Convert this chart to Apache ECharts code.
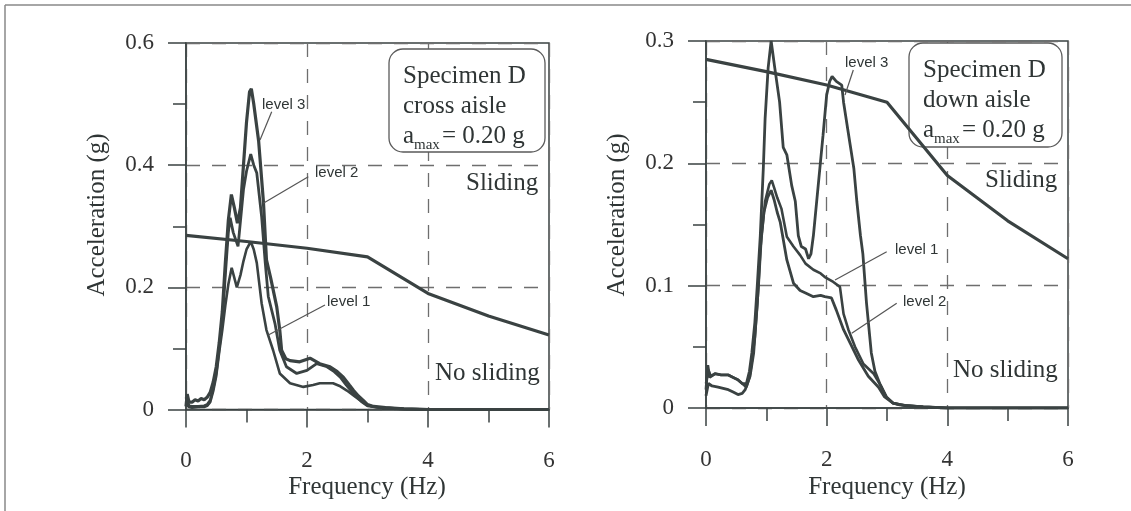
<!DOCTYPE html>
<html><head><meta charset="utf-8">
<script src="https://cdn.jsdelivr.net/npm/echarts@6/dist/echarts.min.js"></script>
<style>html,body{margin:0;padding:0;background:#fff}#c{width:1131px;height:511px}</style>
</head><body><div id="c"></div>
<script>
// ---- data (frequency Hz, acceleration g) ----
const thresholdFreq = [0, 1, 2, 3, 4, 5, 6];
const thresholdAcc  = [0.285, 0.275, 0.264, 0.25, 0.19, 0.153, 0.122];

const crossLevel3 = [[0,0.005],[0.02,0.025],[0.05,0.012],[0.1,0.012],[0.15,0.016],[0.2,0.014],[0.25,0.018],[0.3,0.016],[0.35,0.02],[0.4,0.028],[0.45,0.045],[0.5,0.07],[0.55,0.11],[0.6,0.16],[0.65,0.24],[0.7,0.31],[0.75,0.352],[0.8,0.33],[0.85,0.305],[0.9,0.33],[0.95,0.4],[1.0,0.47],[1.05,0.52],[1.08,0.525],[1.12,0.5],[1.2,0.44],[1.28,0.34],[1.33,0.245],[1.4,0.215],[1.5,0.168],[1.55,0.13],[1.58,0.097],[1.65,0.083],[1.72,0.08],[1.88,0.078],[2.05,0.084],[2.21,0.075],[2.38,0.07],[2.5,0.062],[2.6,0.053],[2.7,0.04],[2.77,0.031],[2.85,0.022],[2.93,0.015],[3.0,0.008],[3.1,0.005],[3.3,0.003],[3.6,0.001],[4,0],[6,0]];
const crossLevel2 = [[0,0.02],[0.05,0.006],[0.1,0.005],[0.2,0.005],[0.3,0.006],[0.35,0.008],[0.4,0.015],[0.45,0.035],[0.5,0.06],[0.55,0.1],[0.6,0.145],[0.65,0.22],[0.7,0.29],[0.73,0.314],[0.78,0.29],[0.86,0.267],[0.95,0.36],[1.0,0.39],[1.07,0.418],[1.12,0.4],[1.17,0.387],[1.25,0.316],[1.31,0.24],[1.36,0.185],[1.47,0.141],[1.55,0.097],[1.66,0.07],[1.83,0.059],[2.0,0.064],[2.16,0.075],[2.33,0.07],[2.45,0.062],[2.55,0.053],[2.65,0.04],[2.77,0.026],[2.9,0.013],[3.0,0.006],[3.2,0.003],[3.6,0.001],[4,0],[6,0]];
const crossLevel1 = [[0,0.01],[0.05,0.004],[0.1,0.003],[0.2,0.004],[0.3,0.004],[0.35,0.006],[0.4,0.012],[0.45,0.03],[0.5,0.055],[0.55,0.095],[0.6,0.13],[0.65,0.17],[0.7,0.205],[0.755,0.232],[0.8,0.215],[0.84,0.2],[0.9,0.22],[0.95,0.243],[1.0,0.262],[1.07,0.275],[1.12,0.262],[1.17,0.24],[1.25,0.174],[1.33,0.13],[1.44,0.097],[1.55,0.059],[1.72,0.043],[1.94,0.037],[2.1,0.04],[2.21,0.043],[2.43,0.043],[2.55,0.038],[2.66,0.031],[2.78,0.022],[2.88,0.015],[3.0,0.007],[3.2,0.003],[3.6,0.001],[4,0],[6,0]];

const downLevel3 = [[0,0.015],[0.03,0.035],[0.06,0.025],[0.15,0.028],[0.25,0.027],[0.37,0.027],[0.45,0.025],[0.53,0.023],[0.6,0.02],[0.67,0.02],[0.72,0.03],[0.76,0.045],[0.81,0.07],[0.85,0.1],[0.9,0.141],[0.95,0.196],[0.98,0.237],[1.03,0.278],[1.08,0.3],[1.14,0.278],[1.22,0.25],[1.28,0.213],[1.34,0.207],[1.42,0.182],[1.48,0.169],[1.53,0.141],[1.58,0.132],[1.65,0.13],[1.7,0.122],[1.74,0.126],[1.78,0.141],[1.86,0.182],[1.94,0.223],[2.0,0.256],[2.05,0.267],[2.09,0.271],[2.16,0.267],[2.25,0.264],[2.28,0.25],[2.33,0.234],[2.39,0.215],[2.45,0.196],[2.5,0.169],[2.56,0.141],[2.6,0.126],[2.66,0.086],[2.74,0.045],[2.8,0.03],[2.88,0.02],[2.99,0.009],[3.1,0.004],[3.21,0.0025],[3.6,0.001],[4,0],[6,0]];
const downLevel1 = [[0,0.02],[0.04,0.031],[0.08,0.026],[0.15,0.028],[0.25,0.027],[0.37,0.027],[0.45,0.025],[0.53,0.023],[0.6,0.02],[0.67,0.017],[0.72,0.025],[0.75,0.034],[0.81,0.058],[0.87,0.099],[0.92,0.141],[0.98,0.169],[1.05,0.183],[1.09,0.186],[1.13,0.18],[1.18,0.172],[1.25,0.163],[1.34,0.14],[1.45,0.132],[1.56,0.125],[1.65,0.118],[1.78,0.113],[1.9,0.11],[1.97,0.107],[2.11,0.103],[2.22,0.099],[2.28,0.077],[2.36,0.064],[2.47,0.05],[2.61,0.036],[2.78,0.028],[2.91,0.017],[2.99,0.009],[3.1,0.004],[3.3,0.002],[3.6,0.001],[4,0],[6,0]];
const downLevel2 = [[0,0.01],[0.04,0.02],[0.1,0.018],[0.2,0.017],[0.37,0.015],[0.45,0.013],[0.53,0.011],[0.6,0.012],[0.65,0.015],[0.73,0.026],[0.79,0.045],[0.85,0.085],[0.9,0.13],[0.96,0.16],[1.02,0.172],[1.08,0.178],[1.13,0.17],[1.18,0.16],[1.23,0.152],[1.34,0.121],[1.45,0.102],[1.56,0.096],[1.65,0.094],[1.78,0.091],[1.9,0.092],[1.97,0.091],[2.08,0.09],[2.16,0.08],[2.28,0.064],[2.39,0.053],[2.53,0.039],[2.69,0.026],[2.86,0.017],[2.96,0.009],[3.1,0.004],[3.3,0.002],[3.6,0.001],[4,0],[6,0]];

const xTicks = [0, 2, 4, 6];
const yTicksCross = [0, 0.2, 0.4, 0.6];
const yTicksDown = [0, 0.1, 0.2, 0.3];

// ---- styling ----
const INK = '#3a4242';
const SERIF = 'Liberation Serif';
const SANS = 'Liberation Sans';
const threshold = thresholdFreq.map((f, i) => [f, thresholdAcc[i]]);

function xAxisCfg(idx) {
  return {
    type: 'value', gridIndex: idx, min: xTicks[0], max: xTicks[xTicks.length - 1], interval: xTicks[1] - xTicks[0],
    axisLine: { lineStyle: { color: INK, width: 1.5 } },
    axisTick: { length: 18, lineStyle: { color: INK, width: 1.5 } },
    minorTick: { show: true, splitNumber: 2, length: 13, lineStyle: { color: INK, width: 1.5 } },
    axisLabel: { margin: 40, fontFamily: SERIF, fontSize: 23, color: '#333' },
    splitLine: { show: true, lineStyle: { color: '#6e6e6e', width: 1.3, type: [14, 12] } }
  };
}
function yAxisCfg(idx, ticks) {
  return {
    type: 'value', gridIndex: idx, min: ticks[0], max: ticks[ticks.length - 1], interval: ticks[1] - ticks[0],
    axisLine: { lineStyle: { color: INK, width: 1.5 } },
    axisTick: { length: 18, lineStyle: { color: INK, width: 1.5 } },
    minorTick: { show: true, splitNumber: 2, length: 13, lineStyle: { color: INK, width: 1.5 } },
    axisLabel: { margin: 32, fontFamily: SERIF, fontSize: 23, color: '#333' },
    splitLine: { show: true, lineStyle: { color: '#6e6e6e', width: 1.3, type: [14, 12] } }
  };
}
function line(data, idx, width) {
  return { type: 'line', xAxisIndex: idx, yAxisIndex: idx, data: data, showSymbol: false, symbol: 'none',
    lineStyle: { color: INK, width: width }, z: 3, silent: true };
}
function txt(x, y, s, size, family, extra) {
  return Object.assign({ type: 'text', x: x, y: y, z: 5, silent: true,
    style: { text: s, fontSize: size, fontFamily: family, fill: '#2f3535', align: 'left', verticalAlign: 'middle' } }, extra || {});
}
function seg(x1, y1, x2, y2) {
  return { type: 'line', z: 5, silent: true, shape: { x1, y1, x2, y2 }, style: { stroke: '#555', lineWidth: 1.2 } };
}
function box(x, y, w, h) {
  return { type: 'rect', z: 1, silent: true, shape: { x, y, width: w, height: h, r: 14 }, style: { fill: '#fff', stroke: '#5a5a5a', lineWidth: 1.3 } };
}
function infoBlock(x0, bx, by, bw, bh, second) {
  return [
    box(bx, by, bw, bh),
    txt(x0, by + 27, 'Specimen D', 25, SERIF),
    txt(x0, by + 57, second, 25, SERIF),
    txt(x0, by + 87, 'a', 25, SERIF),
    txt(x0 + 11, by + 96, 'max', 15, SERIF),
    txt(x0 + 39, by + 87, '= 0.20 g', 25, SERIF)
  ];
}

const chart = echarts.init(document.getElementById('c'), null, { renderer: 'canvas' });
chart.setOption({
  animation: false,
  backgroundColor: '#fff',
  grid: [
    { left: 186, top: 43, width: 363, height: 366.5, show: true, borderColor: INK, borderWidth: 1.5, backgroundColor: 'transparent' },
    { left: 706, top: 41, width: 362, height: 367, show: true, borderColor: INK, borderWidth: 1.5, backgroundColor: 'transparent' }
  ],
  xAxis: [xAxisCfg(0), xAxisCfg(1)],
  yAxis: [yAxisCfg(0, yTicksCross), yAxisCfg(1, yTicksDown)],
  series: [
    line(threshold, 0, 3.2), line(crossLevel1, 0, 2.6), line(crossLevel2, 0, 2.8), line(crossLevel3, 0, 3.2),
    line(threshold, 1, 3.2), line(downLevel1, 1, 2.6), line(downLevel2, 1, 2.8), line(downLevel3, 1, 2.8)
  ],
  graphic: [
    { type: 'line', z: 5, silent: true, shape: { x1: 5, y1: 5, x2: 1131, y2: 5 }, style: { stroke: '#888', lineWidth: 1.5 } },
    { type: 'line', z: 5, silent: true, shape: { x1: 5, y1: 5, x2: 5, y2: 511 }, style: { stroke: '#888', lineWidth: 1.5 } },
    ...infoBlock(403, 389, 49, 156, 103, 'cross aisle'),
    ...infoBlock(923, 909, 43, 153, 104, 'down aisle'),
    txt(466, 183, 'Sliding', 25, SERIF),
    txt(435, 373, 'No sliding', 25, SERIF),
    txt(985, 180, 'Sliding', 25, SERIF),
    txt(953, 370, 'No sliding', 25, SERIF),
    txt(97.5, 215, 'Acceleration (g)', 25, SERIF, { rotation: Math.PI / 2, style: { text: 'Acceleration (g)', fontSize: 25, fontFamily: SERIF, fill: '#2f3535', align: 'center', verticalAlign: 'middle' } }),
    txt(617.5, 215, 'Acceleration (g)', 25, SERIF, { rotation: Math.PI / 2, style: { text: 'Acceleration (g)', fontSize: 25, fontFamily: SERIF, fill: '#2f3535', align: 'center', verticalAlign: 'middle' } }),
    txt(367, 487, 'Frequency (Hz)', 25, SERIF, { style: { text: 'Frequency (Hz)', fontSize: 25, fontFamily: SERIF, fill: '#2f3535', align: 'center', verticalAlign: 'middle' } }),
    txt(887, 487, 'Frequency (Hz)', 25, SERIF, { style: { text: 'Frequency (Hz)', fontSize: 25, fontFamily: SERIF, fill: '#2f3535', align: 'center', verticalAlign: 'middle' } }),
    txt(262, 105, 'level 3', 15, SANS), seg(271.7, 111.7, 260, 140),
    txt(315, 173, 'level 2', 15, SANS), seg(308.3, 176.7, 263.3, 203.3),
    txt(327, 302, 'level 1', 15, SANS), seg(325, 305, 268.3, 335),
    txt(845, 63, 'level 3', 15, SANS), seg(853.3, 70, 845, 95),
    txt(895, 250, 'level 1', 15, SANS), seg(886.7, 251.7, 835, 280),
    txt(903, 302, 'level 2', 15, SANS), seg(896.7, 303.3, 851.7, 333.3)
  ]
});
</script></body></html>
